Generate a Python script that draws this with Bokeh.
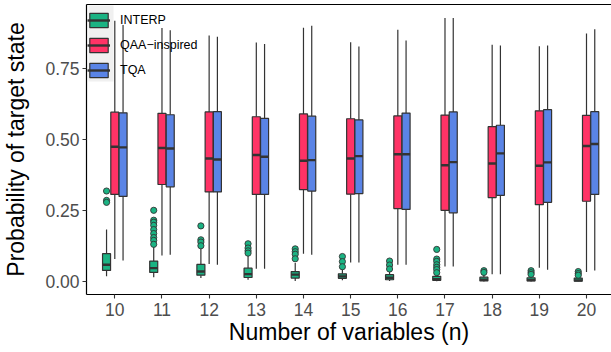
import numpy as np
from bokeh.plotting import figure
from bokeh.models import (ColumnDataSource, FixedTicker, LinearAxis, Legend,
                          LegendItem, Range1d, BoxAnnotation)
from bokeh.embed import file_html
from bokeh.resources import INLINE

# ---------------- data ----------------
n_vars = [10, 11, 12, 13, 14, 15, 16, 17, 18, 19, 20]
methods = ["INTERP", "QAA\u2212inspired", "TQA"]
colors = ["#1BB383", "#FF3366", "#5A84E6"]

interp_lower = [0.018, 0.015, 0.012, 0.006, 0.002, 0.004, 0.002, 0.001, 0.000, 0.000, 0.000]
interp_q1    = [0.039, 0.032, 0.022, 0.014, 0.012, 0.011, 0.006, 0.004, 0.002, 0.002, 0.001]
interp_med   = [0.059, 0.047, 0.035, 0.026, 0.024, 0.018, 0.013, 0.008, 0.006, 0.005, 0.004]
interp_q3    = [0.098, 0.072, 0.060, 0.047, 0.035, 0.027, 0.024, 0.018, 0.015, 0.013, 0.012]
interp_upper = [0.183, 0.125, 0.115, 0.092, 0.065, 0.045, 0.035, 0.026, 0.028, 0.020, 0.018]
interp_outliers = [
    [0.319, 0.286, 0.279],
    [0.251, 0.216, 0.209, 0.198, 0.183, 0.169, 0.155, 0.145, 0.131],
    [0.196, 0.147, 0.139, 0.126],
    [0.133, 0.118, 0.108, 0.100],
    [0.115, 0.105, 0.096, 0.080],
    [0.088, 0.070, 0.052],
    [0.072, 0.058, 0.044],
    [0.113, 0.079, 0.071, 0.059, 0.050, 0.042, 0.031],
    [0.038, 0.032],
    [0.038, 0.031, 0.025],
    [0.035, 0.028, 0.022],
]

qaa_lower = [0.079, 0.092, 0.062, 0.045, 0.098, 0.067, 0.059, 0.053, 0.025, 0.048, 0.033]
qaa_q1    = [0.307, 0.342, 0.316, 0.307, 0.324, 0.308, 0.257, 0.251, 0.296, 0.271, 0.283]
qaa_med   = [0.475, 0.471, 0.434, 0.446, 0.426, 0.434, 0.449, 0.410, 0.416, 0.408, 0.478]
qaa_q3    = [0.597, 0.593, 0.598, 0.581, 0.591, 0.574, 0.584, 0.587, 0.546, 0.602, 0.586]
qaa_upper = [0.920, 0.894, 0.868, 0.843, 0.895, 0.844, 0.888, 0.929, 0.835, 0.830, 0.875]

tqa_lower = [0.074, 0.094, 0.059, 0.045, 0.094, 0.067, 0.059, 0.053, 0.025, 0.041, 0.039]
tqa_q1    = [0.300, 0.334, 0.316, 0.307, 0.319, 0.310, 0.254, 0.242, 0.304, 0.279, 0.307]
tqa_med   = [0.473, 0.469, 0.430, 0.440, 0.428, 0.442, 0.449, 0.421, 0.452, 0.420, 0.485]
tqa_q3    = [0.595, 0.588, 0.599, 0.575, 0.583, 0.570, 0.594, 0.598, 0.551, 0.606, 0.599]
tqa_upper = [0.905, 0.886, 0.863, 0.838, 0.902, 0.829, 0.850, 0.929, 0.832, 0.832, 0.890]

y_ticks = [0.0, 0.25, 0.5, 0.75]
y_tick_labels = ["0.00", "0.25", "0.50", "0.75"]

x_title = "Number of variables (n)"
y_title = "Probability of target state"

# ---------------- figure ----------------
p = figure(width=611, height=352, output_backend="svg", toolbar_location=None,
           x_range=Range1d(9.4, 20.53), y_range=Range1d(-0.046, 0.977),
           min_border_left=86, min_border_right=0, min_border_top=4,
           min_border_bottom=58)
p.grid.visible = False
p.outline_line_color = None
p.background_fill_color = "white"

# grey background behind the legend keys (canvas pixels)
p.add_layout(BoxAnnotation(left=88, right=113, top=5, bottom=81,
                           left_units="canvas", right_units="canvas",
                           top_units="canvas", bottom_units="canvas",
                           fill_color="#F0F0F0", fill_alpha=1.0,
                           line_color=None, level="underlay"))

stats = [
    (interp_lower, interp_q1, interp_med, interp_q3, interp_upper),
    (qaa_lower, qaa_q1, qaa_med, qaa_q3, qaa_upper),
    (tqa_lower, tqa_q1, tqa_med, tqa_q3, tqa_upper),
]
offsets = [-0.175, 0.0, 0.175]
box_w = 0.17
dark = "#333333"

box_rs, med_rs = [], []
for (lo, q1, md, q3, up), off, col in zip(stats, offsets, colors):
    x = np.array(n_vars, dtype=float) + off
    src = ColumnDataSource(dict(x=x, xl=x - box_w / 2, xr=x + box_w / 2,
                                lo=lo, q1=q1, md=md, q3=q3, up=up))
    p.segment(x0="x", x1="x", y0="q3", y1="up", source=src,
              line_color=dark, line_width=1.2)
    p.segment(x0="x", x1="x", y0="q1", y1="lo", source=src,
              line_color=dark, line_width=1.2)
    br = p.vbar(x="x", width=box_w, top="q3", bottom="q1", source=src,
                fill_color=col, line_color=dark, line_width=1.2)
    mr = p.segment(x0="xl", x1="xr", y0="md", y1="md", source=src,
                   line_color=dark, line_width=2.4)
    box_rs.append(br)
    med_rs.append(mr)

# outliers (INTERP only)
ox, oy = [], []
for nv, outs in zip(n_vars, interp_outliers):
    for v in outs:
        ox.append(nv + offsets[0])
        oy.append(v)
p.scatter(x=ox, y=oy, size=6.2, fill_color=colors[0], line_color=dark,
          line_width=0.9)

# ---------------- axes ----------------
FONT = "Liberation Sans"
xa = p.xaxis[0]
xa.ticker = FixedTicker(ticks=n_vars)
xa.axis_label = x_title
ya = p.yaxis[0]
ya.ticker = FixedTicker(ticks=y_ticks)
ya.major_label_overrides = {t: l for t, l in zip(y_ticks, y_tick_labels)}
ya.axis_label = y_title

for ax in (xa, ya):
    ax.axis_line_color = "black"
    ax.axis_line_width = 1.2
    ax.major_tick_line_color = dark
    ax.major_tick_line_width = 1.1
    ax.major_tick_out = 4
    ax.major_tick_in = 0
    ax.minor_tick_line_color = None
    ax.major_label_text_font = FONT
    ax.major_label_text_font_size = "17.5px"
    ax.major_label_text_color = "#4D4D4D"
    ax.axis_label_text_font = FONT
    ax.axis_label_text_font_size = "23px"
    ax.axis_label_text_font_style = "normal"
    ax.axis_label_text_color = "black"
xa.major_label_standoff = 4
xa.axis_label_standoff = 0
ya.major_label_standoff = 3
ya.axis_label_standoff = 13

top = LinearAxis(ticker=FixedTicker(ticks=[]), major_label_text_font_size="0px",
                 major_tick_out=0, major_tick_in=0, minor_tick_out=0,
                 minor_tick_in=0, major_label_standoff=0,
                 axis_line_color="black", axis_line_width=1.2)
p.add_layout(top, "above")

# ---------------- legend ----------------
leg = Legend(items=[LegendItem(label=lab, renderers=[b, m])
                    for lab, b, m in zip(methods, box_rs, med_rs)],
             location=(1, 215), margin=0, padding=3, spacing=7,
             glyph_width=23, glyph_height=18, border_line_color=None,
             label_width=0, label_height=0,
             background_fill_alpha=0.0, label_standoff=10,
             label_text_font=FONT, label_text_font_size="12.5px",
             label_text_color="black")
p.add_layout(leg)

open("out.html", "w").write(file_html(p, INLINE))
